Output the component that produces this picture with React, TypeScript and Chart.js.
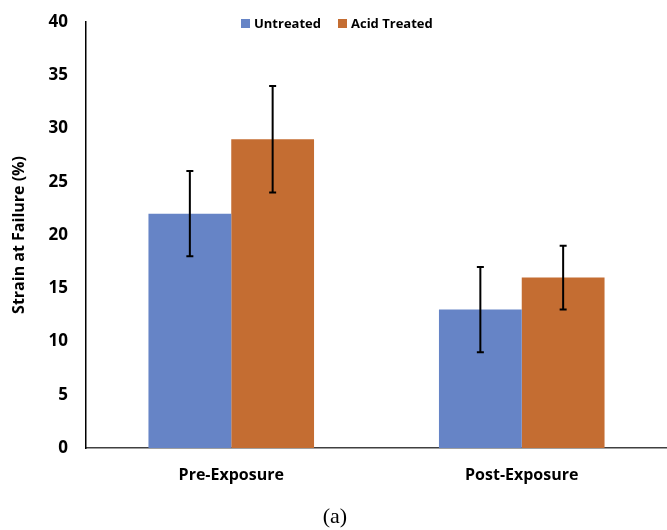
import React, { useEffect, useRef } from "react";
import { Chart, registerables } from "chart.js";

Chart.register(...registerables);

const categories = ["Pre-Exposure", "Post-Exposure"];
const seriesNames = ["Untreated", "Acid Treated"];
const untreated = [22, 13];
const acidTreated = [29, 16];
const untreatedErr = [4, 4];
const acidTreatedErr = [5, 3];
const yTicks = [0, 5, 10, 15, 20, 25, 30, 35, 40];

const BLUE = "#6684C6";
const ORANGE = "#C46D32";
const FONT = "'Open Sans', 'Noto Sans', sans-serif";

const errorBarPlugin = {
  id: "errorBars",
  afterDatasetsDraw(chart: any) {
    const ctx = chart.ctx;
    const y = chart.scales.y;
    chart.data.datasets.forEach((ds: any, di: number) => {
      const meta = chart.getDatasetMeta(di);
      meta.data.forEach((bar: any, i: number) => {
        const v = ds.data[i];
        const e = ds.errors[i];
        const top = y.getPixelForValue(v + e);
        const bot = y.getPixelForValue(v - e);
        const x = bar.x;
        ctx.save();
        ctx.strokeStyle = "#000";
        ctx.lineWidth = 2;
        ctx.beginPath();
        ctx.moveTo(x, top);
        ctx.lineTo(x, bot);
        ctx.moveTo(x - 3.5, top);
        ctx.lineTo(x + 3.5, top);
        ctx.moveTo(x - 3.5, bot);
        ctx.lineTo(x + 3.5, bot);
        ctx.stroke();
        ctx.restore();
      });
    });
  },
};

const legendPlugin = {
  id: "customLegend",
  afterDraw(chart: any) {
    const ctx = chart.ctx;
    const positions = [241, 338];
    ctx.save();
    ctx.font = `bold 13px ${FONT}`;
    ctx.textBaseline = "middle";
    ctx.textAlign = "left";
    chart.data.datasets.forEach((ds: any, di: number) => {
      const x = positions[di];
      ctx.fillStyle = ds.backgroundColor;
      ctx.fillRect(x, 19, 9, 9);
      ctx.fillStyle = "#000";
      ctx.fillText(ds.label, x + 13, 24);
    });
    ctx.restore();
  },
};

export default function App() {
  const ref = useRef<HTMLCanvasElement>(null);
  useEffect(() => {
    if (!ref.current) return;
    const chart = new Chart(ref.current, {
      type: "bar",
      data: {
        labels: categories,
        datasets: [
          {
            label: seriesNames[0],
            data: untreated,
            errors: untreatedErr,
            backgroundColor: BLUE,
            categoryPercentage: 0.57,
            barPercentage: 1,
          } as any,
          {
            label: seriesNames[1],
            data: acidTreated,
            errors: acidTreatedErr,
            backgroundColor: ORANGE,
            categoryPercentage: 0.57,
            barPercentage: 1,
          } as any,
        ],
      },
      options: {
        animation: false,
        responsive: false,
        layout: { padding: { top: 22, right: 0, left: 0, bottom: 0 } },
        plugins: {
          legend: { display: false },
          tooltip: { enabled: false },
        },
        scales: {
          x: {
            grid: { display: false, drawTicks: false },
            border: { display: true, color: "#404040", width: 1.5 },
            ticks: {
              color: "#000",
              font: { family: FONT, size: 16, weight: "bold" },
              padding: 18,
            },
            afterFit(scale: any) {
              scale.height = 82;
              scale.paddingLeft = 0;
              scale.paddingRight = 0;
            },
          },
          y: {
            min: 0,
            max: 40,
            afterBuildTicks(scale: any) {
              scale.ticks = yTicks.map((v) => ({ value: v }));
            },
            grid: { display: false, drawTicks: false },
            border: { display: true, color: "#000", width: 1.5 },
            ticks: {
              color: "#000",
              font: { family: FONT, size: 17, weight: "bold" },
              padding: 18,
            },
            title: {
              display: true,
              text: "Strain at Failure (%)",
              color: "#000",
              font: { family: FONT, size: 16, weight: "bold" },
              padding: { top: 10, bottom: 0 },
            },
            afterFit(scale: any) {
              scale.width = 86;
              scale.paddingTop = 0;
              scale.paddingBottom = 0;
            },
          },
        },
      },
      plugins: [errorBarPlugin, legendPlugin],
    });
    return () => chart.destroy();
  }, []);

  return (
    <div style={{ position: "absolute", left: 0, top: 0, width: 667, height: 530, background: "#fff" }}>
      <canvas ref={ref} width={667} height={530} style={{ display: "block" }} />
      <div
        style={{
          position: "absolute",
          left: 0,
          width: 670,
          top: 503,
          textAlign: "center",
          fontFamily: "'Liberation Serif', 'DejaVu Serif', serif",
          fontSize: 22,
          lineHeight: "26px",
        }}
      >
        (a)
      </div>
    </div>
  );
}
